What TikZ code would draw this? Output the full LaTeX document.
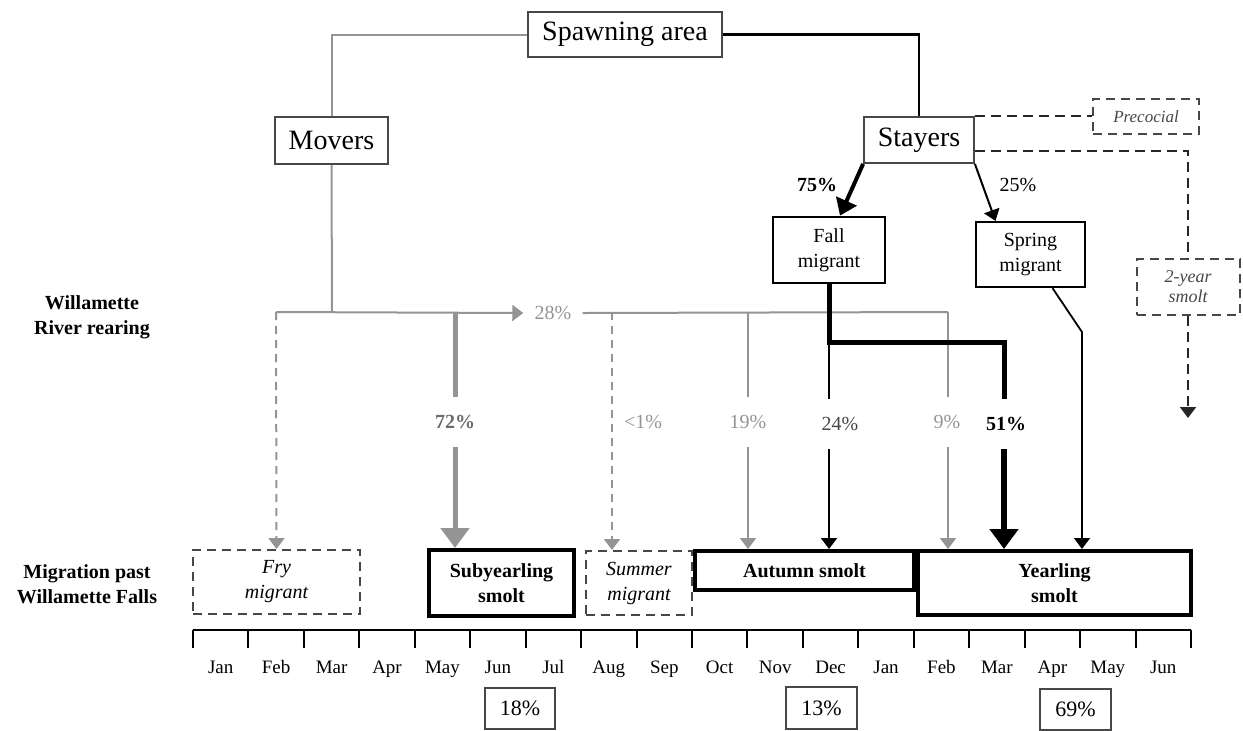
\documentclass[tikz,border=0pt]{standalone}
\usepackage{fontspec}
\setmainfont{Liberation Serif}
\usetikzlibrary{arrows.meta,calc}
\definecolor{lg}{gray}{0.58}
\definecolor{mg}{gray}{0.42}
\definecolor{dg}{gray}{0.28}
\tikzset{
  box/.style={draw, inner sep=0pt, align=center, font=\fontsize{10}{12.5}\selectfont},
  topbox/.style={box, draw=dg, line width=0.9pt, font=\fontsize{14}{17}\selectfont},
  fallbox/.style={box, line width=1.4pt},
  springbox/.style={box, line width=1.1pt},
  smoltbox/.style={box, line width=2pt, font=\fontsize{10}{12.5}\selectfont\bfseries},
  dashbox/.style={box, draw=dg, line width=1pt, dash pattern=on 4.5pt off 3pt, font=\fontsize{10}{12.5}\selectfont\itshape},
  pctbox/.style={box, draw=dg, line width=0.7pt, font=\fontsize{11}{13}\selectfont},
  lbl/.style={inner sep=0pt, font=\fontsize{10}{12}\selectfont},
  midlbl/.style={inner xsep=0pt, inner ysep=8.8pt, font=\fontsize{10}{12}\selectfont},
  side/.style={inner sep=0pt, align=center, font=\fontsize{10}{12.5}\selectfont\bfseries},
  tip/.style={-{Triangle[length=5.5pt,width=8pt]}},
  bigtip/.style={-{Triangle[length=10pt,width=14pt]}},
  gthin/.style={draw=lg, line width=1pt},
  gthick/.style={draw=lg, line width=2.5pt},
  gdash/.style={draw=lg, line width=1pt, dash pattern=on 4pt off 3pt},
  bthin/.style={draw=black, line width=1pt},
  bthick/.style={draw=black, line width=2.5pt},
  bdash/.style={draw=black!85, line width=1pt, dash pattern=on 5pt off 3pt},
}
\begin{document}
\begin{tikzpicture}[x=0.5pt,y=-0.5pt]
\useasboundingbox (0,0) rectangle (1243,730);

% top boxes
\node[topbox, minimum width=97pt, minimum height=22.5pt] (spawn) at (625,34.5) {Spawning area};
\node[topbox, minimum width=56.5pt, minimum height=23.5pt] (movers) at (331.5,140.5) {Movers};
\node[topbox, minimum width=55pt, minimum height=23pt] (stayers) at (919,140) {Stayers};
\node[dashbox, minimum width=53pt, minimum height=17.5pt, font=\fontsize{8.5}{10}\selectfont\itshape, text=dg] (precocial) at (1146,116.5) {Precocial};
\node[fallbox, minimum width=56pt, minimum height=33pt] (fall) at (829,250) {Fall\\migrant};
\node[springbox, minimum width=54.5pt, minimum height=32.5pt] (spring) at (1030.5,254.5) {Spring\\migrant};
\node[dashbox, minimum width=51.5pt, minimum height=28pt, font=\fontsize{9}{10}\selectfont\itshape, text=dg] (twoyear) at (1188,287) {2-year\\smolt};

% bottom boxes
\node[dashbox, minimum width=83.5pt, minimum height=32pt] (fry) at (276.5,582) {Fry\\migrant};
\node[smoltbox, minimum width=72.5pt, minimum height=33pt] (suby) at (501.5,583) {Subyearling\\smolt};
\node[dashbox, minimum width=53pt, minimum height=32pt] (summer) at (639,583) {Summer\\migrant};
\node[smoltbox, minimum width=109.5pt, minimum height=19.5pt] (autumn) at (804.5,570.5) {Autumn smolt};
\node[smoltbox, minimum width=136.5pt, minimum height=32pt] (yearling) at (1054.5,583) {Yearling\\smolt};

% percentage boxes
\node[pctbox, minimum width=35pt, minimum height=20.5pt] (p18) at (520,708.5) {18\%};
\node[pctbox, minimum width=35.5pt, minimum height=21pt] (p13) at (821.5,708) {13\%};
\node[pctbox, minimum width=35.5pt, minimum height=20.5pt] (p69) at (1075.5,709.5) {69\%};

% side labels
\node[side] (rear) at (92,317) {Willamette\\River rearing};
\node[side] (migr) at (87,584) {Migration past\\Willamette Falls};

% top connections
\draw[gthin] (spawn.west) -| (movers.north);
\draw[draw=black, line width=1.3pt] (spawn.east) -| (stayers.north);
\draw[bdash] (stayers.north east) -- (stayers.north east -| precocial.west);
\draw[bdash] ([yshift=6.5pt]stayers.south east) -| (twoyear.north);
\coordinate (tyend) at (1188,418);
\draw[bdash, tip] (twoyear.south) -- (tyend);

\draw[draw=black, line width=2pt, -{Triangle[length=8pt,width=11pt]}] (stayers.south west) -- ([xshift=5.5pt]fall.north);
\draw[bthin, tip] (stayers.south east) -- ([xshift=-17.5pt]spring.north);
\node[lbl, font=\fontsize{10}{12}\selectfont\bfseries] (l75) at (817,185) {75\%};
\node[lbl] (l25) at (1018,185) {25\%};

% movers rearing branch
\coordinate (split) at (332,312);
\coordinate (lft) at (276,312);
\coordinate (rgt) at (948,312);
\draw[gthin] (movers.south) -- (split);
\node[lbl, inner xsep=5.5pt, text=lg] (p28) at (553,313) {28\%};
\draw[gthin, tip] (lft) -- (p28.west);
\draw[gthin] (p28.east) -- (rgt);

% fry
\draw[gdash, tip] (lft) -- (fry.north);
% subyearling 72%
\coordinate (c72) at (455,312);
\node[midlbl, font=\fontsize{10}{12}\selectfont\bfseries, text=mg] (p72) at (455,422) {72\%};
\draw[gthick] (c72) -- (c72 |- p72.north);
\draw[gthick, bigtip] (c72 |- p72.south) -- (c72 |- suby.north);
% summer <1%
\coordinate (cs) at (612,312);
\draw[gdash, tip] (cs) -- (cs |- summer.north);
\node[lbl, text=lg] (p1) at (643,422) {<1\%};
% 19%
\coordinate (c19) at (748,312);
\node[midlbl, text=lg] (p19) at (748,422) {19\%};
\draw[gthin] (c19) -- (c19 |- p19.north);
\draw[gthin, tip] (c19 |- p19.south) -- (c19 |- autumn.north);
% 9%
\node[midlbl, text=lg] (p9) at (947,422) {9\%};
\draw[gthin] (rgt) -- (rgt |- p9.north);
\draw[gthin, tip] (rgt |- p9.south) -- (rgt |- yearling.north);

% fall migrant branch
\coordinate (t2) at (1004,342);
\coordinate (t1) at (fall.south |- t2);
\node[midlbl, font=\fontsize{10}{12}\selectfont\bfseries] (p51) at (1006,424) {51\%};
\node[midlbl, text=dg] (p24) at (840,424) {24\%};
\draw[bthin] (t1) -- (t1 |- p24.north);
\draw[bthin, tip] (t1 |- p24.south) -- (t1 |- autumn.north);
\draw[bthick] (fall.south) |- (t2) -- (t2 |- p51.north);
\draw[draw=black, line width=2.8pt, bigtip] (t2 |- p51.south) -- (t2 |- yearling.north);

% spring migrant
\coordinate (sc) at (1082,332);
\draw[draw=black, line width=0.9pt, tip] ([xshift=11pt]spring.south) -- (sc) -- (sc |- yearling.north);

% timeline
\draw[line width=1pt] (193,630) -- (1191,630);
\foreach \i in {0,...,18}
  \draw[line width=1pt] (193+55.444*\i,630) -- (193+55.444*\i,648);
\foreach \m [count=\k from 0] in {Jan,Feb,Mar,Apr,May,Jun,Jul,Aug,Sep,Oct,Nov,Dec,Jan,Feb,Mar,Apr,May,Jun}
  \node[lbl, anchor=base, font=\fontsize{9.5}{11}\selectfont] at (193+55.444*\k+27.7,673) {\m};
\end{tikzpicture}
\end{document}
